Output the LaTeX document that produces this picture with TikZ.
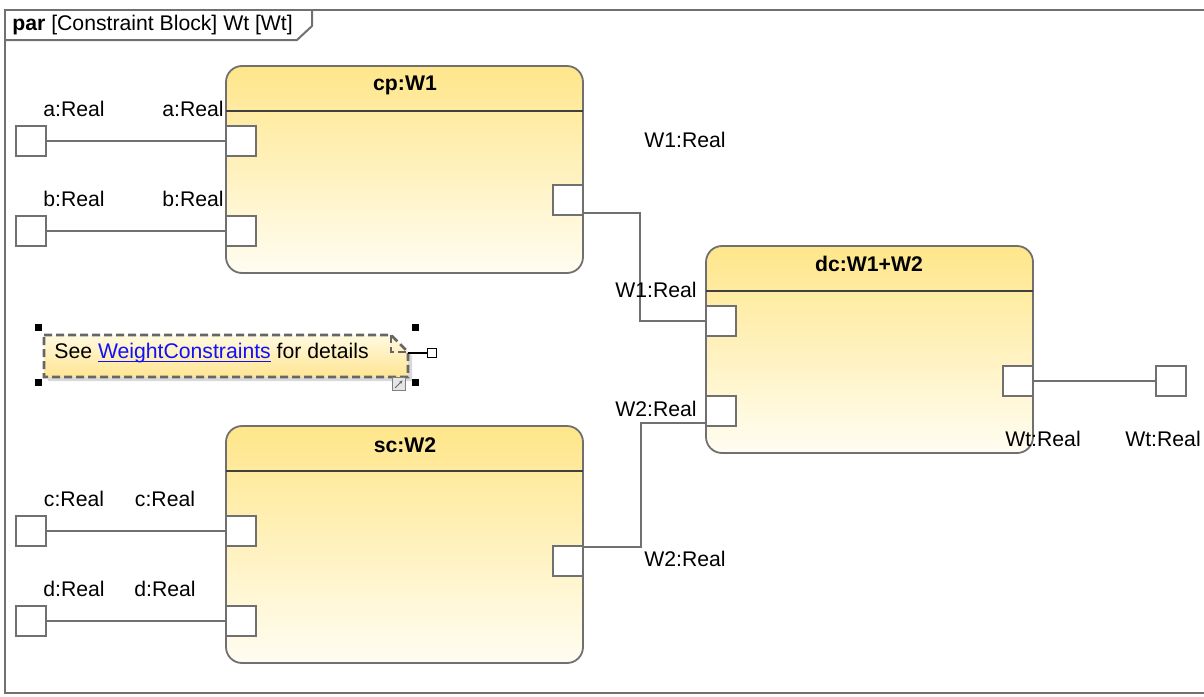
\documentclass[tikz,border=0pt]{standalone}
\usepackage{fontspec}
\setmainfont{Liberation Sans}
\usepackage{xcolor}
\usepackage{tikz}
\usetikzlibrary{fit, positioning, arrows.meta}

\definecolor{blocktop}{HTML}{FFE68A}
\definecolor{blockbot}{HTML}{FFFDF2}
\definecolor{edgegray}{HTML}{707070}
\definecolor{notetop}{HTML}{FFF9E0}
\definecolor{notebot}{HTML}{FFE592}
\definecolor{linkblue}{HTML}{1010FF}
\newsavebox{\linkbox}
\newcommand{\linkword}[1]{\sbox{\linkbox}{#1}\rlap{\rule[-2pt]{\wd\linkbox}{0.6pt}}\usebox{\linkbox}}

\begin{document}
\begin{tikzpicture}[x=0.5pt, y=-0.5pt, font=\fontsize{10.6}{12}\selectfont,
  block/.style={draw=edgegray, line width=0.9pt, rounded corners=8pt, top color=blocktop, bottom color=blockbot, inner sep=0pt},
  port/.style={draw=edgegray, line width=0.9pt, fill=white, minimum size=15pt, inner sep=0pt},
  wire/.style={draw=edgegray, line width=0.9pt},
  hline/.style={draw=black!75, line width=0.9pt},
  btitle/.style={font=\fontsize{10.6}{12}\selectfont\bfseries},
  notedash/.style={draw=black!60, line width=1.4pt, dash pattern=on 4pt off 2pt},
  handle/.style={fill=black, minimum size=3.5pt, inner sep=0pt}]
\useasboundingbox (0,0) rectangle (1204,696);

% frame
\draw[edgegray, line width=1pt] (5,10) rectangle (1212,693);
\draw[edgegray, line width=1pt] (5,40) -- (297,40) -- (312,26) -- (312,10);
\node[anchor=west, inner sep=0pt] (frametitle) at (12,25) {\textbf{par} [Constraint Block] Wt [Wt]};

% blocks
\node[block, fit={(226,66) (583,273)}] (cp) {};
\node[btitle] (cptitle) at (405,85) {cp:W1};
\draw[hline] (226,111) -- (583,111);

\node[block, fit={(226,426) (583,663)}] (sc) {};
\node[btitle] (sctitle) at (405,445) {sc:W2};
\draw[hline] (226,471) -- (583,471);

\node[block, fit={(706,246) (1033,453)}] (dc) {};
\node[btitle] (dctitle) at (869,264) {dc:W1+W2};
\draw[hline] (706,291) -- (1033,291);

% ports
\node[port] (a) at (31,141) {};
\node[port] (b) at (31,231) {};
\node[port] (c) at (31,531) {};
\node[port] (d) at (31,621) {};
\node[port] (cpA) at (241,141) {};
\node[port] (cpB) at (241,231) {};
\node[port] (cpW) at (568,200) {};
\node[port] (scC) at (241,531) {};
\node[port] (scD) at (241,621) {};
\node[port] (scW) at (568,561) {};
\node[port] (dcA) at (721,321) {};
\node[port] (dcB) at (721,411) {};
\node[port] (dcT) at (1018,381) {};
\node[port] (wt) at (1171,381) {};

% connectors
\draw[wire] (a) -- (cpA);
\draw[wire] (b) -- (cpB);
\draw[wire] (c) -- (scC);
\draw[wire] (d) -- (scD);
\draw[wire] (dcT) -- (wt);
\coordinate (bendA) at (640,321);
\coordinate (bendB) at (641,423);
\draw[wire] ([yshift=1.5pt]cpW.south east) -| (bendA) -- (dcA);
\draw[wire] ([yshift=-1pt]scW.north east) -| (bendB) -- (bendB -| dcB.west);

% port labels
\node (aout) at (74,109) {a:Real};
\node (ain) at (193,109) {a:Real};
\node (bout) at (74,199) {b:Real};
\node (bin) at (193,199) {b:Real};
\node (cout) at (74,499) {c:Real};
\node (cin) at (165,499) {c:Real};
\node (dout) at (74,589) {d:Real};
\node (din) at (165,589) {d:Real};
\node (cpWlbl) at (685,140) {W1:Real};
\node (dcAlbl) at (656,290) {W1:Real};
\node (dcBlbl) at (656,409) {W2:Real};
\node (scWlbl) at (685,559) {W2:Real};
\node (dcTlbl) at (1043,439) {Wt:Real};
\node (wtlbl) at (1163,439) {Wt:Real};

% note
\fill[black!15] (48,339) -- (395,339) -- (412,356) -- (412,381) -- (48,381) -- cycle;
\draw[notedash, top color=notetop, bottom color=notebot] (44,335) -- (391,335) -- (408,352) -- (408,377) -- (44,377) -- cycle;
\draw[notedash] (391,335) -- (391,352) -- (408,352);
\node[anchor=west, inner sep=0pt] (note) at (54,353) {See \textcolor{linkblue}{\linkword{WeightConstraints}} for details};
\coordinate (noteR) at (408,353);
\node[draw=black, fill=white, minimum size=4.5pt, inner sep=0pt, line width=0.6pt] (link) at (432,353) {};
\draw[black, line width=0.6pt] (noteR) -- (link);
\node[draw=black!50, fill=black!10, minimum size=6.5pt, inner sep=0pt, line width=0.5pt] (grip) at (399,384) {};
\draw[black!60, line width=0.5pt, -{Latex[length=2pt]}] (395,388) -- (403,380);
\node[handle] (h1) at (38,327) {};
\node[handle] (h2) at (415,327) {};
\node[handle] (h3) at (38,382) {};
\node[handle] (h4) at (415,382) {};
\end{tikzpicture}
\end{document}
